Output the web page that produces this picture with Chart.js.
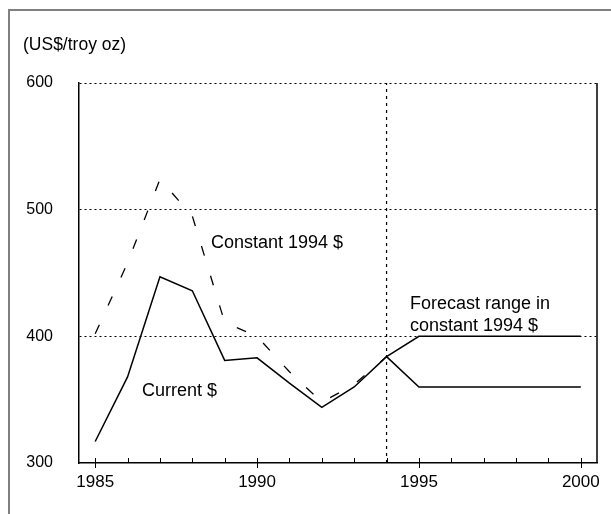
<!DOCTYPE html>
<html><head><meta charset="utf-8">
<script src="https://cdn.jsdelivr.net/npm/chart.js@4/dist/chart.umd.min.js"></script>
<style>html,body{margin:0;padding:0;background:#fff}#wrap{position:relative;width:611px;height:514px}</style>
</head><body><div id="wrap"><canvas id="c" width="611" height="514"></canvas></div>
<script>
// ---- data ----
const years = [1985, 1986, 1987, 1988, 1989, 1990, 1991, 1992, 1993, 1994];
const currentUSD = [317, 368, 447, 436, 381, 383, 363, 344, 360, 384];
const constant1994USD = [402, 458, 524, 495, 411, 400, 372, 348, 362, 384];
const forecastYears = [1994, 1995, 2000];
const forecastHigh = [384, 400, 400];
const forecastLow = [384, 360, 360];
const forecastStartYear = 1994;
const yTickValues = [300, 400, 500, 600];
const xTickLabels = [1985, 1990, 1995, 2000];
const minorTickYears = [1985,1986,1987,1988,1989,1990,1991,1992,1993,1994,1995,1996,1997,1998,1999,2000];
const unitLabel = '(US$/troy oz)';
const labelConstant = 'Constant 1994 $';
const labelCurrent = 'Current $';
const labelForecast = ['Forecast range in', 'constant 1994 $'];

const FONT = '"Liberation Sans", Arial, Helvetica, sans-serif';
const pts = (xs, ys) => xs.map((x, i) => ({ x: x, y: ys[i] }));

const decor = {
  id: 'decor',
  beforeDraw(chart) {
    const c = chart.ctx;
    c.save();
    c.strokeStyle = '#808080';
    c.lineWidth = 2;
    c.beginPath();
    c.moveTo(9, 514); c.lineTo(9, 10); c.lineTo(611, 10);
    c.stroke();
    c.restore();
  },
  afterDraw(chart) {
    const c = chart.ctx, a = chart.chartArea, xs = chart.scales.x;
    c.save();
    // right border of plot
    c.strokeStyle = '#000'; c.lineWidth = 1.5;
    c.beginPath(); c.moveTo(a.right, a.top); c.lineTo(a.right, a.bottom); c.stroke();
    // x ticks
    c.lineWidth = 1;
    minorTickYears.forEach(yr => {
      const px = Math.round(xs.getPixelForValue(yr)) + 0.5;
      const major = xTickLabels.includes(yr);
      c.beginPath();
      c.moveTo(px, a.bottom - 5);
      c.lineTo(px, major ? a.bottom + 5 : a.bottom);
      c.stroke();
    });
    // texts
    c.fillStyle = '#000';
    c.textBaseline = 'alphabetic';
    c.textAlign = 'left';
    c.font = '17.5px ' + FONT;
    c.fillText(unitLabel, 23, 50);
    c.font = '18px ' + FONT;
    c.fillText(labelConstant, 211, 248);
    c.textAlign = 'right';
    c.fillText(labelCurrent, 217, 396);
    c.textAlign = 'left';
    c.fillText(labelForecast[0], 410, 309);
    c.fillText(labelForecast[1], 410, 331);
    c.restore();
  }
};

new Chart(document.getElementById('c'), {
  type: 'line',
  data: {
    datasets: [
      { label: labelConstant, data: pts(years, constant1994USD), borderColor: '#000', borderWidth: 1.3, borderDash: [10, 21], pointRadius: 0, tension: 0, fill: false },
      { label: labelCurrent, data: pts(years, currentUSD), borderColor: '#000', borderWidth: 1.5, pointRadius: 0, tension: 0, fill: false },
      { label: 'Forecast high', data: pts(forecastYears, forecastHigh), borderColor: '#000', borderWidth: 1.5, pointRadius: 0, tension: 0, fill: false },
      { label: 'Forecast low', data: pts(forecastYears, forecastLow), borderColor: '#000', borderWidth: 1.5, pointRadius: 0, tension: 0, fill: false },
      { label: 'Forecast start', data: pts([forecastStartYear, forecastStartYear], [yTickValues[0], yTickValues[yTickValues.length - 1]]), borderColor: '#000', borderWidth: 1.2, borderDash: [3, 4], pointRadius: 0, fill: false }
    ]
  },
  options: {
    responsive: false, animation: false, devicePixelRatio: 1,
    layout: { padding: { top: 83, right: 14, left: 0, bottom: 0 } },
    plugins: { legend: { display: false }, tooltip: { enabled: false } },
    scales: {
      x: {
        type: 'linear', min: 1984.5, max: 2000.5,
        afterBuildTicks: s => { s.ticks = xTickLabels.map(v => ({ value: v })); },
        afterFit: s => { s.height = 51; },
        grid: { display: false, drawTicks: false },
        border: { display: true, color: '#000', width: 1.5 },
        ticks: { color: '#000', font: { family: FONT, size: 17 }, padding: 9, maxRotation: 0, autoSkip: false, callback: v => String(v) }
      },
      y: {
        min: 300, max: 600,
        afterBuildTicks: s => { s.ticks = yTickValues.map(v => ({ value: v })); },
        afterFit: s => { s.width = 79; },
        grid: { drawTicks: false, lineWidth: 1, color: ctx => (ctx.tick && ctx.tick.value === 300) ? 'rgba(0,0,0,0)' : '#000' },
        border: { display: true, color: '#000', width: 1.5, dash: [2, 3] },
        ticks: { color: '#000', font: { family: FONT, size: 16 }, padding: 26, callback: v => String(v) }
      }
    }
  },
  plugins: [decor]
});
</script></body></html>
